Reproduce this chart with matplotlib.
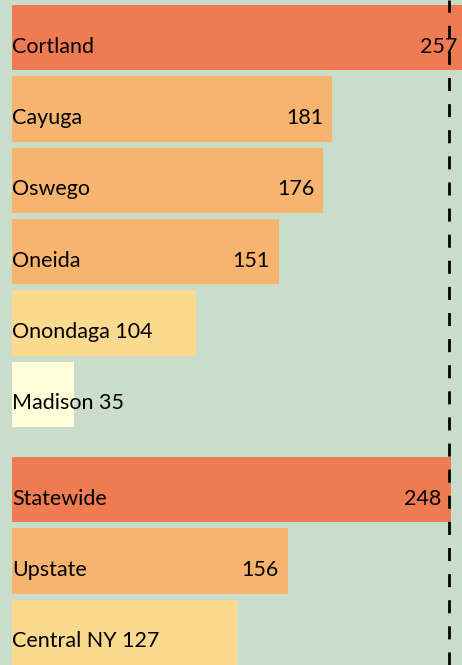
import numpy as np
import matplotlib.pyplot as plt

# rates by county, then the regional comparisons
counties = ["Cortland", "Cayuga", "Oswego", "Oneida", "Onondaga", "Madison"]
county_vals = [257, 181, 176, 151, 104, 35]
regions = ["Statewide", "Upstate", "Central NY"]
region_vals = [248, 156, 127]
statewide = 248

BG = "#CADDCB"

def bar_color(v):
    if v >= 240:
        return "#EE7B51"
    if v >= 140:
        return "#F6B46E"
    if v >= 100:
        return "#FBD98F"
    return "#FFFFD9"

names = counties + regions
vals = county_vals + region_vals
pos = list(range(len(counties))) + [len(counties) + 0.34 + i for i in range(len(regions))]

fig = plt.figure(figsize=(4.62, 6.65), dpi=100, facecolor=BG)
ax = fig.add_axes([12 / 462, 0, 450 / 462, 1])
ax.set_facecolor(BG)

ax.barh(pos, vals, height=0.916, color=[bar_color(v) for v in vals], clip_on=False)
ax.axvline(statewide - 0.8, color="black", lw=2.0, dashes=(4.7, 4.7), zorder=5)

px = 254.5 / 450  # data units per pixel
fs = 15.5
for p, n, v in zip(pos, names, vals):
    yb = p + 0.21
    if v >= 140:
        ax.text(0, yb, n, ha="left", va="baseline", fontsize=fs, family="Lato")
        ax.text(v - 9 * px, yb, str(v), ha="right", va="baseline", fontsize=fs, family="Lato")
    else:
        ax.text(0, yb, f"{n} {v}", ha="left", va="baseline", fontsize=fs, family="Lato")

ax.set_xlim(0, 254.5)
ax.set_ylim(8.797, -0.529)
ax.axis("off")

fig.savefig("out.png", dpi=100, facecolor=BG)
